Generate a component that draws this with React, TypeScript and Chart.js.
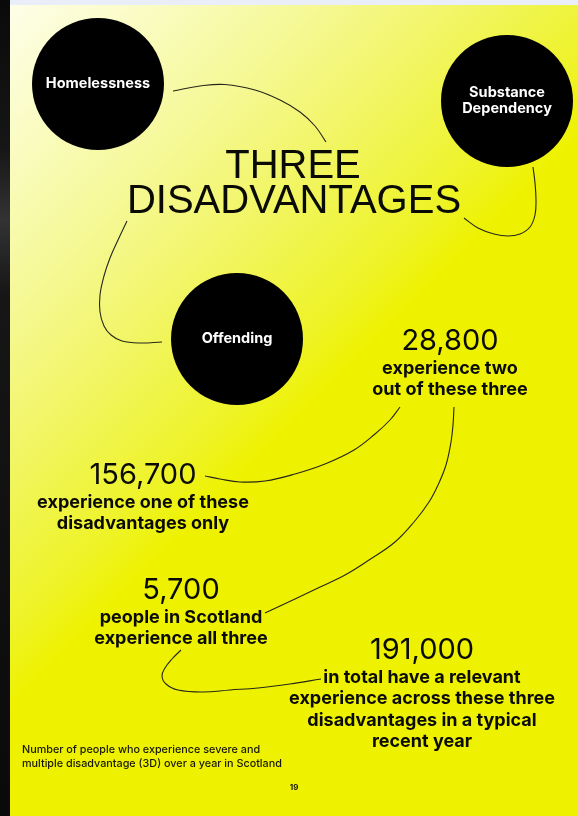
import React, { useEffect, useRef } from "react";
import { Chart, registerables } from "chart.js";

Chart.register(...registerables);

// ---------- content ----------
const disadvantages = ["Homelessness", "Substance Dependency", "Offending"];
const disadvantageLabelLines = [["Homelessness"], ["Substance", "Dependency"], ["Offending"]];
const titleLines = ["THREE", "DISADVANTAGES"];
const statValues = [28800, 156700, 5700, 191000];
const statDescriptions = [
  ["experience two", "out of these three"],
  ["experience one of these", "disadvantages only"],
  ["people in Scotland", "experience all three"],
  ["in total have a relevant", "experience across these three", "disadvantages in a typical", "recent year"],
];
const footnoteLines = [
  "Number of people who experience severe and",
  "multiple disadvantage (3D) over a year in Scotland",
];
const pageNumber = "19";

// ---------- layout (page pixel units) ----------
const PAGE_W = 578;
const PAGE_H = 816;
const circleCenters = [
  { x: 98, y: 84 },
  { x: 507, y: 101 },
  { x: 237, y: 339 },
];
const circleRadius = 66;
const titleAnchors = [
  { x: 293, y: 178 },
  { x: 294, y: 213 },
];
const statAnchors = [
  { x: 450, y: 350 },
  { x: 143, y: 484 },
  { x: 181, y: 599 },
  { x: 422, y: 659 },
];
const connectorPaths: { x: number; y: number }[][] = [
  [[173, 91], [200, 86], [225, 84.5], [255, 90], [280, 100], [300, 112], [315, 126], [326, 142]],
  [[533, 167], [535, 183], [536, 200], [535, 215], [530, 227], [520, 234], [508, 236], [494, 234], [478, 228], [464, 218]],
  [[127, 221], [118, 240], [110, 258], [104, 276], [100, 295], [100, 312], [104, 326], [111, 335], [122, 341], [140, 343], [162, 342]],
  [[400, 407], [390, 420], [375, 434], [354, 450], [325, 464], [295, 474], [265, 481], [240, 482], [220, 479], [205, 476]],
  [[454, 407], [453, 425], [451, 442], [446, 465], [438, 485], [429, 502], [414, 522], [395, 542], [369, 560], [345, 575], [318, 588], [295, 599], [280, 606], [265, 613]],
  [[181, 650], [172, 659], [165, 668], [162, 676], [166, 684], [178, 690], [203, 692], [230, 690], [258, 688], [290, 684], [321, 679]],
].map((path) => path.map(([x, y]) => ({ x, y })));
const footnoteAnchor = { x: 22, y: 753 };
const pageNumberAnchor = { x: 294, y: 788 };

const INK = "#0b0b05";

const backgroundPlugin = {
  id: "pageBackground",
  beforeDraw(chart: any) {
    const { ctx } = chart;
    ctx.save();
    const g = ctx.createLinearGradient(10, 5, 360, 355);
    g.addColorStop(0, "#fdfee8");
    g.addColorStop(0.2, "#fafcc4");
    g.addColorStop(0.45, "#f5f892");
    g.addColorStop(0.67, "#f1f560");
    g.addColorStop(0.9, "#eef326");
    g.addColorStop(1, "#eef200");
    ctx.fillStyle = g;
    ctx.fillRect(0, 0, PAGE_W, PAGE_H);
    ctx.fillStyle = "#e9eef9";
    ctx.fillRect(0, 0, PAGE_W, 5);
    const s = ctx.createLinearGradient(0, 0, 0, PAGE_H);
    s.addColorStop(0, "#0a0a0a");
    s.addColorStop(0.18, "#161616");
    s.addColorStop(0.27, "#333333");
    s.addColorStop(0.36, "#161616");
    s.addColorStop(1, "#0a0a0a");
    ctx.fillStyle = s;
    ctx.fillRect(0, 0, 10, PAGE_H);
    ctx.restore();
  },
};

const textPlugin = {
  id: "infographicText",
  afterDatasetsDraw(chart: any) {
    const { ctx } = chart;
    const xs = chart.scales.x;
    const ys = chart.scales.y;
    const px = (v: number) => xs.getPixelForValue(v);
    const py = (v: number) => ys.getPixelForValue(v);
    ctx.save();

    // circle labels
    ctx.fillStyle = "#ffffff";
    ctx.textAlign = "center";
    ctx.textBaseline = "middle";
    ctx.font = '700 14.5px "Inter"';
    disadvantageLabelLines.forEach((lines, i) => {
      const c = circleCenters[i];
      const lh = 16;
      lines.forEach((t, j) => {
        const off = (j - (lines.length - 1) / 2) * lh;
        ctx.fillText(t, px(c.x), py(c.y + off));
      });
    });

    // title
    ctx.fillStyle = INK;
    ctx.textBaseline = "alphabetic";
    ctx.font = '400 40px "Liberation Sans"';
    titleLines.forEach((t, i) => {
      ctx.fillText(t, px(titleAnchors[i].x), py(titleAnchors[i].y));
    });

    // stats
    statValues.forEach((v, i) => {
      const a = statAnchors[i];
      ctx.font = '400 29px "Inter"';
      ctx.fillText(v.toLocaleString("en-US"), px(a.x), py(a.y));
      ctx.font = '700 18px "Inter"';
      statDescriptions[i].forEach((t, j) => {
        ctx.fillText(t, px(a.x), py(a.y + 23.5 + j * 21.6));
      });
    });

    // footnote
    ctx.textAlign = "left";
    ctx.font = '500 10.8px "Inter"';
    ctx.fillStyle = "#161606";
    footnoteLines.forEach((t, j) => {
      ctx.fillText(t, px(footnoteAnchor.x), py(footnoteAnchor.y + j * 13.5));
    });

    // page number
    ctx.textAlign = "center";
    ctx.textBaseline = "middle";
    ctx.font = '700 8px "Inter"';
    ctx.fillText(pageNumber, px(pageNumberAnchor.x), py(pageNumberAnchor.y));

    ctx.restore();
  },
};

export default function App() {
  const ref = useRef<HTMLCanvasElement | null>(null);
  useEffect(() => {
    if (!ref.current) return;
    const datasets: any[] = connectorPaths.map((path, i) => ({
      type: "line",
      label: `connector ${i + 1}`,
      data: path,
      showLine: true,
      borderColor: "#26261a",
      borderWidth: 1.1,
      tension: 0.4,
      pointRadius: 0,
      fill: false,
      clip: false,
    }));
    datasets.push({
      type: "scatter",
      label: "disadvantages",
      data: circleCenters.map((c, i) => ({ x: c.x, y: c.y, name: disadvantages[i] })),
      pointRadius: circleRadius,
      pointHoverRadius: circleRadius,
      backgroundColor: "#000000",
      borderWidth: 0,
      clip: false,
    });
    const chart = new Chart(ref.current, {
      type: "scatter",
      data: { datasets },
      options: {
        animation: false,
        responsive: false,
        maintainAspectRatio: false,
        events: [],
        layout: { padding: 0, autoPadding: false },
        plugins: { legend: { display: false }, tooltip: { enabled: false }, title: { display: false } },
        scales: {
          x: { type: "linear", min: 0, max: PAGE_W, display: false },
          y: { type: "linear", min: 0, max: PAGE_H, reverse: true, display: false },
        },
      },
      plugins: [backgroundPlugin, textPlugin],
    });
    return () => chart.destroy();
  }, []);
  return (
    <div style={{ position: "absolute", left: 0, top: 0, width: PAGE_W, height: PAGE_H, overflow: "hidden" }}>
      <canvas ref={ref} width={PAGE_W} height={PAGE_H} style={{ display: "block", width: PAGE_W, height: PAGE_H }} />
    </div>
  );
}
